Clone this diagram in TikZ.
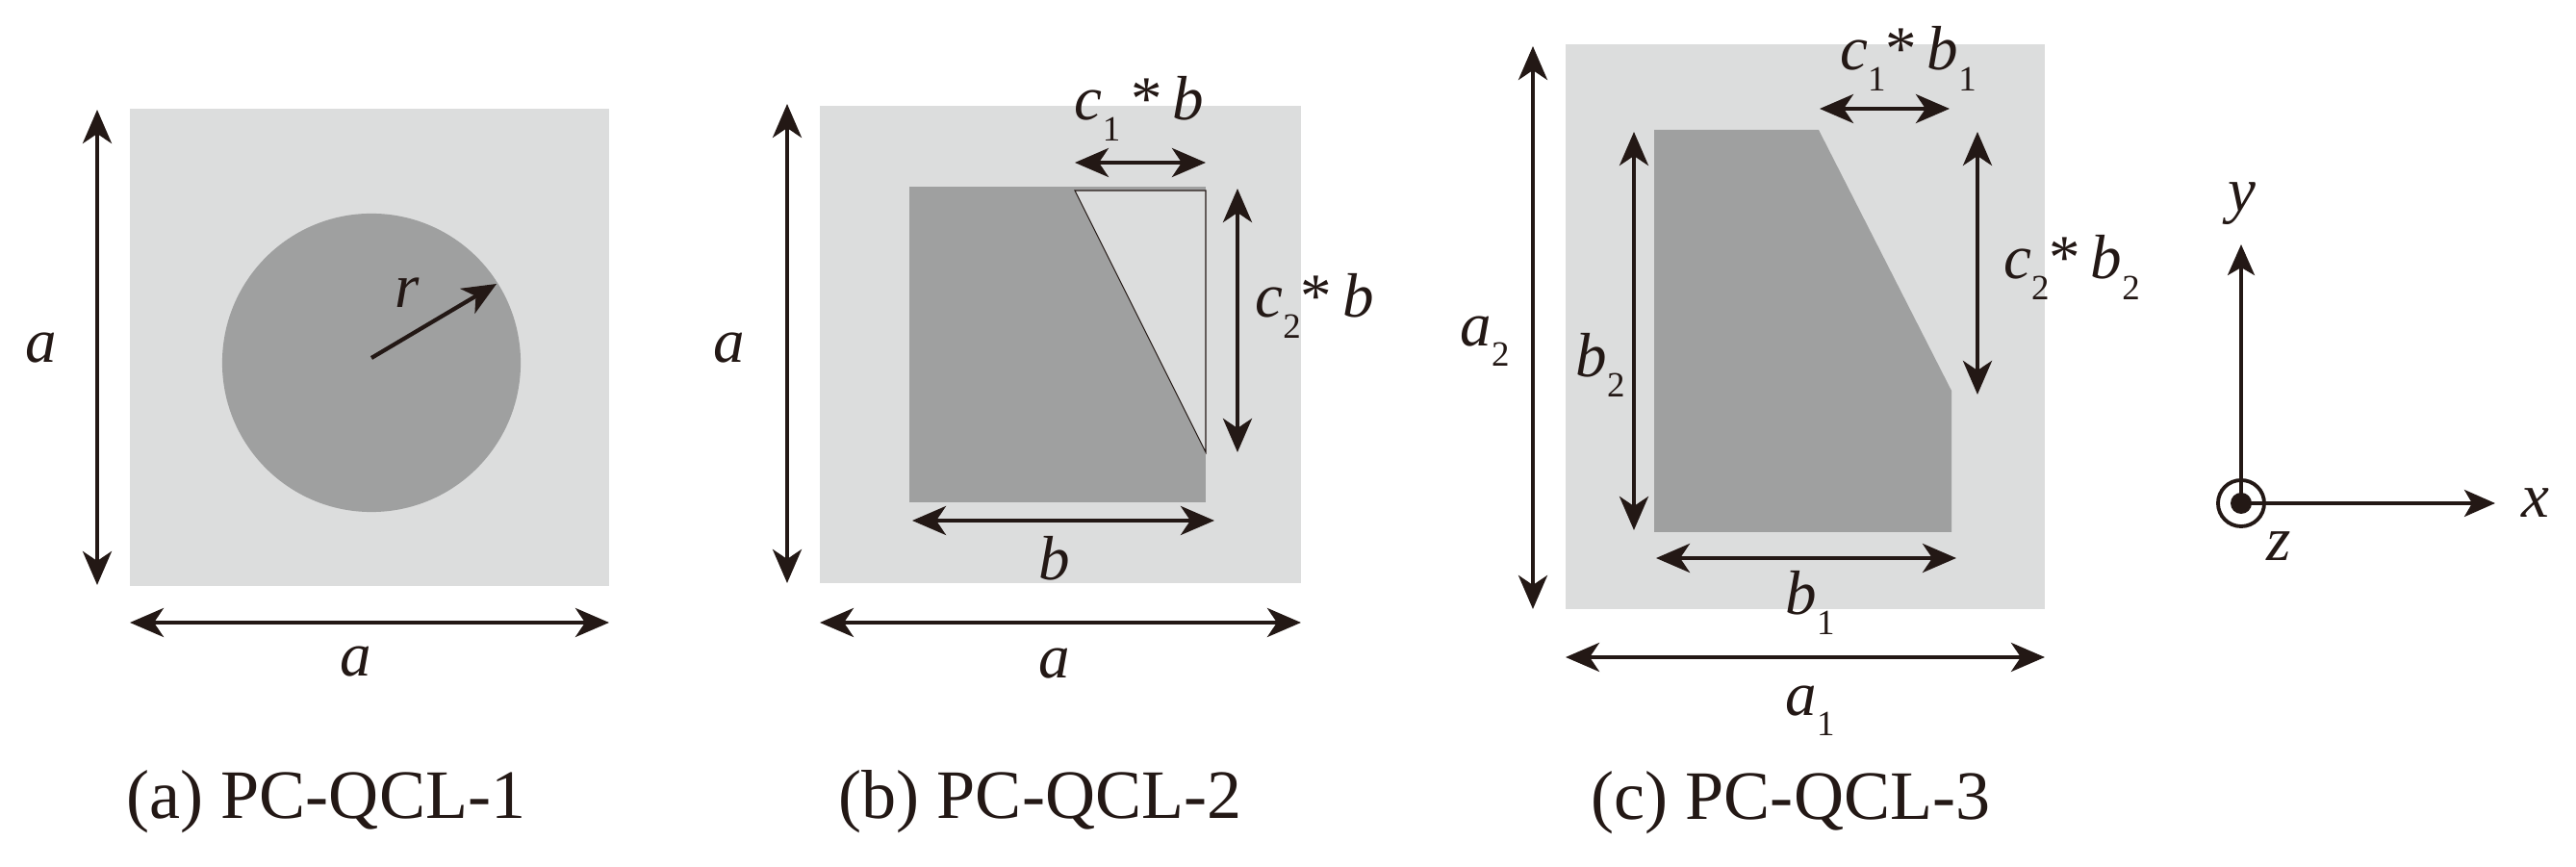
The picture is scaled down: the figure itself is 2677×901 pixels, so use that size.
\documentclass[tikz,border=0pt]{standalone}
\usepackage{fontspec}
\setmainfont{Liberation Serif}
\usetikzlibrary{arrows.meta}
\definecolor{inkblack}{HTML}{231815}
\definecolor{cellgray}{HTML}{DCDDDD}
\definecolor{holegray}{HTML}{9FA0A0}
\newcommand{\sbs}[1]{\raisebox{-6pt}{\fontsize{10.5}{10.5}\selectfont\upshape #1}}
\tikzset{
  dim/.style={draw=inkblack,line width=1.2pt,{Stealth[length=3.5mm,width=3mm,inset=1mm]}-{Stealth[length=3.5mm,width=3mm,inset=1mm]}},
  axis/.style={draw=inkblack,line width=1pt,-{Stealth[length=3.2mm,width=2.8mm,inset=0.8mm]}},
  lab/.style={text=inkblack,font=\fontsize{18.5}{18.5}\selectfont\itshape,inner sep=0pt},
  caption/.style={text=inkblack,font=\fontsize{20.5}{20.5}\selectfont,inner sep=0pt},
}
\begin{document}
\begin{tikzpicture}[x=0.01cm,y=-0.01cm]
\useasboundingbox (0,0) rectangle (2677,901);
% PC-QCL-1
\fill[cellgray] (135,113) rectangle (633,609);
\fill[holegray] (386,377) circle (1.55cm);
\draw[dim] (101,114) -- (101,608);
\draw[dim] (135,647) -- (633,647);
\draw[-{Stealth[length=3.5mm,width=3mm,inset=1mm]},draw=inkblack,line width=1.2pt] (386,372) -- (516,295);
\node[lab] (aleft) at (43,362) {a};
\node[lab] (abottom) at (370,688) {a};
\node[lab] (rlabel) at (423,304) {r};
\node[caption] (capa) at (339,833) {(a) PC-QCL-1};
% PC-QCL-2
\fill[cellgray] (852,110) rectangle (1352,606);
\fill[holegray] (945,194) rectangle (1253,522);
\filldraw[fill=cellgray,draw=inkblack,line width=0.3pt] (1117,198) -- (1253,198) -- (1253,470) -- cycle;
\draw[dim] (818,108) -- (818,606);
\draw[dim] (852,647) -- (1352,647);
\draw[dim] (1117,169) -- (1253,169);
\draw[dim] (1286,196) -- (1286,470);
\draw[dim] (948,541) -- (1262,541);
\node[lab] (bleft) at (758,362) {a};
\node[lab] (bbottom) at (1096,690) {a};
\node[lab] (bwidth) at (1096,580) {b};
\node[lab,anchor=base] (bcone) at (1184,125) {c\sbs{1}\,\upshape*\,\itshape b};
\node[lab,anchor=base] (bctwo) at (1366,330) {c\sbs{2}\upshape*\,\itshape b};
\node[caption] (capb) at (1081,833) {(b) PC-QCL-2};
% PC-QCL-3
\fill[cellgray] (1627,46) rectangle (2125,633);
\fill[holegray] (1719,135) -- (1890,135) -- (2028,406) -- (2028,553) -- (1719,553) -- cycle;
\draw[dim] (1593,48) -- (1593,633);
\draw[dim] (1698,137) -- (1698,551);
\draw[dim] (1891,113) -- (2026,113);
\draw[dim] (2055,137) -- (2055,410);
\draw[dim] (1721,580) -- (2033,580);
\draw[dim] (1627,683) -- (2125,683);
\node[lab] (cleft) at (1543,355) {a\sbs{2}};
\node[lab] (cheight) at (1663,379) {b\sbs{2}};
\node[lab,anchor=base] (ccone) at (1983,73) {c\sbs{1}\upshape*\,\itshape b\sbs{1}};
\node[lab,anchor=base] (cctwo) at (2153,290) {c\sbs{2}\upshape*\,\itshape b\sbs{2}};
\node[lab] (cwidth) at (1881,626) {b\sbs{1}};
\node[lab] (cbottom) at (1881,739) {a\sbs{1}};
\node[caption] (capc) at (1861,834) {(c) PC-QCL-3};
% axes
\coordinate (origin) at (2329,523);
\node[lab] (xlabel) at (2635,523) {x};
\node[lab] (ylabel) at (2330,212) {y};
\node[lab] (zlabel) at (2368,568) {z};
\draw[axis] (origin) -- (2593,523);
\draw[axis] (origin) -- (2329,254);
\draw[draw=inkblack,line width=1.1pt] (origin) circle (0.24cm);
\fill[inkblack] (origin) circle (0.11cm);
\end{tikzpicture}
\end{document}
